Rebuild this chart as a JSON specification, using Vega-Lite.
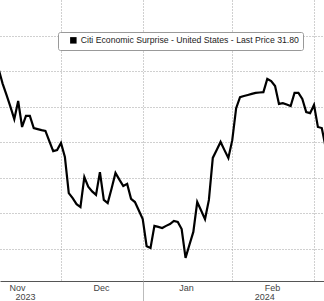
{
  "$schema": "https://vega.github.io/schema/vega-lite/v6.json",
  "width": 324,
  "height": 281,
  "autosize": {"type": "none"},
  "padding": {"left": 0, "top": 0, "right": 0, "bottom": 20},
  "background": "white",
  "config": {
    "view": {"stroke": null},
    "axis": {"labelFont": "Liberation Sans", "labelFontSize": 9, "labelColor": "#444", "labelOverlap": false, "labelFlush": false, "title": null}
  },
  "data": {
    "values": [
      {"i": 6, "date": "2023-11-09", "v": 50.5},
      {"i": 7, "date": "2023-11-10", "v": 46.5},
      {"i": 8, "date": "2023-11-13", "v": 43.3},
      {"i": 9, "date": "2023-11-14", "v": 40.0},
      {"i": 10, "date": "2023-11-15", "v": 36.5},
      {"i": 11, "date": "2023-11-16", "v": 41.6},
      {"i": 12, "date": "2023-11-17", "v": 34.3},
      {"i": 13, "date": "2023-11-20", "v": 37.4},
      {"i": 14, "date": "2023-11-21", "v": 37.4},
      {"i": 15, "date": "2023-11-22", "v": 34.0},
      {"i": 16, "date": "2023-11-23", "v": 33.7},
      {"i": 17, "date": "2023-11-24", "v": 33.4},
      {"i": 18, "date": "2023-11-27", "v": 33.2},
      {"i": 19, "date": "2023-11-28", "v": 30.3},
      {"i": 20, "date": "2023-11-29", "v": 27.5},
      {"i": 21, "date": "2023-11-30", "v": 27.8},
      {"i": 22, "date": "2023-12-01", "v": 29.8},
      {"i": 23, "date": "2023-12-04", "v": 25.9},
      {"i": 24, "date": "2023-12-05", "v": 15.7},
      {"i": 25, "date": "2023-12-06", "v": 14.3},
      {"i": 26, "date": "2023-12-07", "v": 12.6},
      {"i": 27, "date": "2023-12-08", "v": 11.8},
      {"i": 28, "date": "2023-12-11", "v": 20.2},
      {"i": 29, "date": "2023-12-12", "v": 17.5},
      {"i": 30, "date": "2023-12-13", "v": 16.2},
      {"i": 31, "date": "2023-12-14", "v": 15.2},
      {"i": 32, "date": "2023-12-15", "v": 21.6},
      {"i": 33, "date": "2023-12-18", "v": 13.8},
      {"i": 34, "date": "2023-12-19", "v": 12.9},
      {"i": 35, "date": "2023-12-20", "v": 17.0},
      {"i": 36, "date": "2023-12-21", "v": 21.4},
      {"i": 37, "date": "2023-12-22", "v": 19.5},
      {"i": 38, "date": "2023-12-25", "v": 17.7},
      {"i": 39, "date": "2023-12-26", "v": 18.3},
      {"i": 40, "date": "2023-12-27", "v": 14.1},
      {"i": 41, "date": "2023-12-28", "v": 13.2},
      {"i": 42, "date": "2023-12-29", "v": 10.8},
      {"i": 43, "date": "2024-01-01", "v": 8.4},
      {"i": 44, "date": "2024-01-02", "v": 0.8},
      {"i": 45, "date": "2024-01-03", "v": 0.3},
      {"i": 46, "date": "2024-01-04", "v": 6.5},
      {"i": 47, "date": "2024-01-05", "v": 6.2},
      {"i": 48, "date": "2024-01-08", "v": 5.9},
      {"i": 49, "date": "2024-01-09", "v": 6.5},
      {"i": 50, "date": "2024-01-10", "v": 7.0},
      {"i": 51, "date": "2024-01-11", "v": 7.9},
      {"i": 52, "date": "2024-01-12", "v": 7.6},
      {"i": 53, "date": "2024-01-15", "v": 5.6},
      {"i": 54, "date": "2024-01-16", "v": -2.5},
      {"i": 55, "date": "2024-01-17", "v": 1.2},
      {"i": 56, "date": "2024-01-18", "v": 4.8},
      {"i": 57, "date": "2024-01-19", "v": 13.2},
      {"i": 58, "date": "2024-01-22", "v": 10.8},
      {"i": 59, "date": "2024-01-23", "v": 8.4},
      {"i": 60, "date": "2024-01-24", "v": 13.8},
      {"i": 61, "date": "2024-01-25", "v": 25.6},
      {"i": 62, "date": "2024-01-26", "v": 27.8},
      {"i": 63, "date": "2024-01-29", "v": 30.1},
      {"i": 64, "date": "2024-01-30", "v": 27.8},
      {"i": 65, "date": "2024-01-31", "v": 25.6},
      {"i": 66, "date": "2024-02-01", "v": 30.6},
      {"i": 67, "date": "2024-02-02", "v": 39.6},
      {"i": 68, "date": "2024-02-05", "v": 42.7},
      {"i": 69, "date": "2024-02-06", "v": 43.0},
      {"i": 70, "date": "2024-02-07", "v": 43.3},
      {"i": 71, "date": "2024-02-08", "v": 43.6},
      {"i": 72, "date": "2024-02-09", "v": 43.9},
      {"i": 73, "date": "2024-02-12", "v": 44.0},
      {"i": 74, "date": "2024-02-13", "v": 44.1},
      {"i": 75, "date": "2024-02-14", "v": 47.8},
      {"i": 76, "date": "2024-02-15", "v": 47.2},
      {"i": 77, "date": "2024-02-16", "v": 45.8},
      {"i": 78, "date": "2024-02-19", "v": 40.8},
      {"i": 79, "date": "2024-02-20", "v": 41.0},
      {"i": 80, "date": "2024-02-21", "v": 40.6},
      {"i": 81, "date": "2024-02-22", "v": 40.2},
      {"i": 82, "date": "2024-02-23", "v": 43.9},
      {"i": 83, "date": "2024-02-26", "v": 43.9},
      {"i": 84, "date": "2024-02-27", "v": 42.2},
      {"i": 85, "date": "2024-02-28", "v": 38.5},
      {"i": 86, "date": "2024-02-29", "v": 38.2},
      {"i": 87, "date": "2024-03-01", "v": 40.5},
      {"i": 88, "date": "2024-03-04", "v": 34.3},
      {"i": 89, "date": "2024-03-05", "v": 34.0},
      {"i": 90, "date": "2024-03-06", "v": 28.5}
    ]
  },
  "layer": [
    {
      "mark": {"type": "line", "strokeWidth": 2.2, "clip": true},
      "encoding": {
        "x": {
          "field": "i", "type": "quantitative",
          "scale": {"domain": [6.33, 89.57], "nice": false, "zero": false},
          "axis": {"orient": "bottom", "values": [22, 43, 66, 87], "grid": true, "gridDash": [1, 2], "gridColor": "#a0a0a0", "labels": false, "ticks": false, "domain": true, "domainColor": "#555", "domainWidth": 1}
        },
        "y": {
          "field": "v", "type": "quantitative",
          "scale": {"domain": [-9, 70], "nice": false, "zero": false},
          "axis": {"values": [0, 10, 20, 30, 40, 50, 60], "grid": true, "gridDash": [1, 2], "gridColor": "#a0a0a0", "labels": false, "ticks": false, "domain": false}
        },
        "color": {
          "datum": "Citi Economic Surprise - United States - Last Price 31.80",
          "type": "nominal",
          "scale": {"range": ["black"]},
          "legend": {
            "orient": "none", "legendX": 58, "legendY": 32, "title": null,
            "fillColor": "white", "strokeColor": "#999", "cornerRadius": 2, "padding": 4,
            "labelFont": "Liberation Sans", "labelFontSize": 8.7, "labelColor": "#222", "labelLimit": 400,
            "symbolType": "square", "symbolSize": 42, "symbolOffset": 7, "labelOffset": 3,
            "symbolFillColor": "black", "symbolStrokeColor": "black", "symbolStrokeWidth": 0,
            "encode": {"symbols": {"update": {"fill": {"value": "black"}, "stroke": {"value": "black"}}}}
          }
        }
      }
    },
    {
      "mark": {"type": "rule", "opacity": 0},
      "encoding": {
        "x": {"field": "i", "type": "quantitative",
          "axis": {"orient": "bottom", "values": [43], "grid": false, "labels": false, "ticks": true, "tickSize": 20, "tickColor": "#bbb", "tickWidth": 1, "domain": false}}
      }
    },
    {
      "mark": {"type": "rule", "opacity": 0},
      "encoding": {
        "x": {"field": "i", "type": "quantitative",
          "axis": {"orient": "bottom", "values": [10.7, 32.3, 54.1, 76.2], "grid": false, "ticks": false, "domain": false, "labelPadding": 2,
            "labelExpr": "datum.value < 20 ? 'Nov' : datum.value < 40 ? 'Dec' : datum.value < 60 ? 'Jan' : 'Feb'"}}
      }
    },
    {
      "mark": {"type": "rule", "opacity": 0},
      "encoding": {
        "x": {"field": "i", "type": "quantitative",
          "axis": {"orient": "bottom", "values": [12.75, 74.2], "grid": false, "ticks": false, "domain": false, "labelPadding": 11,
            "labelExpr": "datum.value < 40 ? '2023' : '2024'"}}
      }
    }
  ],
  "resolve": {"axis": {"x": "independent"}}
}
